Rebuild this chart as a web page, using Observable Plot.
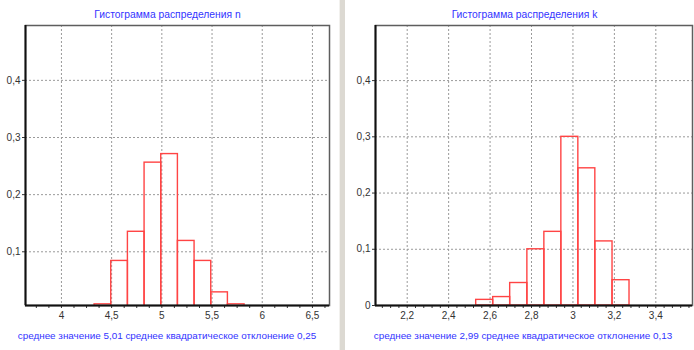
<!DOCTYPE html>
<html><head><meta charset="utf-8">
<script src="https://cdn.jsdelivr.net/npm/d3@7"></script>
<script src="https://cdn.jsdelivr.net/npm/@observablehq/plot@0.6"></script>
<style>
body{margin:0;background:#fff;}
#wrap{position:relative;width:694px;height:350px;overflow:hidden;font-family:"Liberation Sans",Arial,sans-serif;background:#fff;}
.t{position:absolute;color:#3333ff;font-size:10.3px;white-space:nowrap;transform:translate(-50%,-50%);line-height:1;}
.f{font-size:9.9px;}
.p{position:absolute;top:0;}
#sep{position:absolute;left:339px;top:0;width:6px;height:350px;background:#dcd9d2;border-left:1px solid #f2f1ee;box-sizing:border-box;}
</style></head><body><div id="wrap"><div id="sep"></div></div>
<script>
// ---- data: distribution of n ----
const nTitle = "Гистограмма распределения n";
const nFooter = "среднее значение 5,01 среднее квадратическое отклонение 0,25";
const nEdges = [4.33, 4.496, 4.662, 4.828, 4.994, 5.16, 5.326, 5.492, 5.658, 5.824];
const nFreq = [0.008, 0.084, 0.135, 0.256, 0.271, 0.119, 0.084, 0.029, 0.008];
const nXTicks = [4, 4.5, 5, 5.5, 6, 6.5];
const nYTicks = [0.1, 0.2, 0.3, 0.4];

// ---- data: distribution of k ----
const kTitle = "Гистограмма распределения k";
const kFooter = "среднее значение 2,99 среднее квадратическое отклонение 0,13";
const kEdges = [2.533, 2.615, 2.697, 2.78, 2.862, 2.944, 3.026, 3.108, 3.191, 3.273];
const kFreq = [0.010, 0.015, 0.040, 0.100, 0.131, 0.300, 0.244, 0.114, 0.045];
const kXTicks = [2.2, 2.4, 2.6, 2.8, 3, 3.2, 3.4];
const kYTicks = [0, 0.1, 0.2, 0.3, 0.4];

const comma = d => String(+(+d).toFixed(3)).replace(".", ",");

function panel(o) {
  const bins = o.freq.map((f, i) => ({x1: o.edges[i], x2: o.edges[i + 1], y: f}));
  const isMajor = d => o.xTicks.some(m => Math.abs(m - d) < 1e-9);
  const grid = {stroke: "#9a9a9a", strokeWidth: 1, strokeDasharray: "2,2"};
  return Plot.plot({
    width: o.width, height: 326,
    marginLeft: o.ml, marginRight: o.mr, marginTop: 25, marginBottom: 21,
    style: {fontFamily: "Liberation Sans, Arial, sans-serif", fontSize: "10px", color: "#333", background: "transparent", overflow: "visible"},
    x: {domain: o.xDomain, ticks: o.xMinor, tickFormat: d => isMajor(d) ? comma(d) : "", tickSize: 3, tickPadding: 3, label: null},
    y: {domain: o.yDomain, ticks: o.yTicks, tickFormat: comma, tickSize: 3, tickPadding: 2, label: null},
    marks: [
      Plot.ruleX(o.xTicks, grid),
      Plot.ruleY(o.yTicks.filter(d => d > o.yDomain[0]), grid),
      Plot.rect(bins, {x1: "x1", x2: "x2", y1: () => 0, y2: "y", fill: "none", stroke: "#ff4444", strokeWidth: 1.4, clip: true}),
      Plot.frame({stroke: "#5e5e5e", strokeWidth: 1.5}),
      Plot.ruleX([o.xDomain[0]], {stroke: "#111", strokeWidth: 2}),
      Plot.ruleY([o.yDomain[0]], {stroke: "#111", strokeWidth: 2})
    ]
  });
}

const wrap = document.getElementById("wrap");
function addPanel(left, o, titleX, footX) {
  const d = document.createElement("div");
  d.className = "p"; d.style.left = left + "px";
  d.appendChild(panel(o));
  wrap.appendChild(d);
  const t = document.createElement("div");
  t.className = "t"; t.textContent = o.title; t.style.left = titleX + "px"; t.style.top = "15px";
  wrap.appendChild(t);
  const f = document.createElement("div");
  f.className = "t f"; f.textContent = o.footer; f.style.left = footX + "px"; f.style.top = "336px";
  wrap.appendChild(f);
}

addPanel(0, {
  title: nTitle, footer: nFooter, edges: nEdges, freq: nFreq,
  xDomain: [3.642, 6.67], yDomain: [0.006, 0.496],
  xTicks: nXTicks, xMinor: d3.range(30, 54).map(i => i * 0.125), yTicks: nYTicks,
  width: 339, ml: 25, mr: 10
}, 167.5, 167);

addPanel(345, {
  title: kTitle, footer: kFooter, edges: kEdges, freq: kFreq,
  xDomain: [2.047, 3.577], yDomain: [0, 0.498],
  xTicks: kXTicks, xMinor: d3.range(52, 90).map(i => +(i * 0.04).toFixed(2)), yTicks: kYTicks,
  width: 349, ml: 30, mr: 2
}, 524.5, 523);
</script>
</body></html>
